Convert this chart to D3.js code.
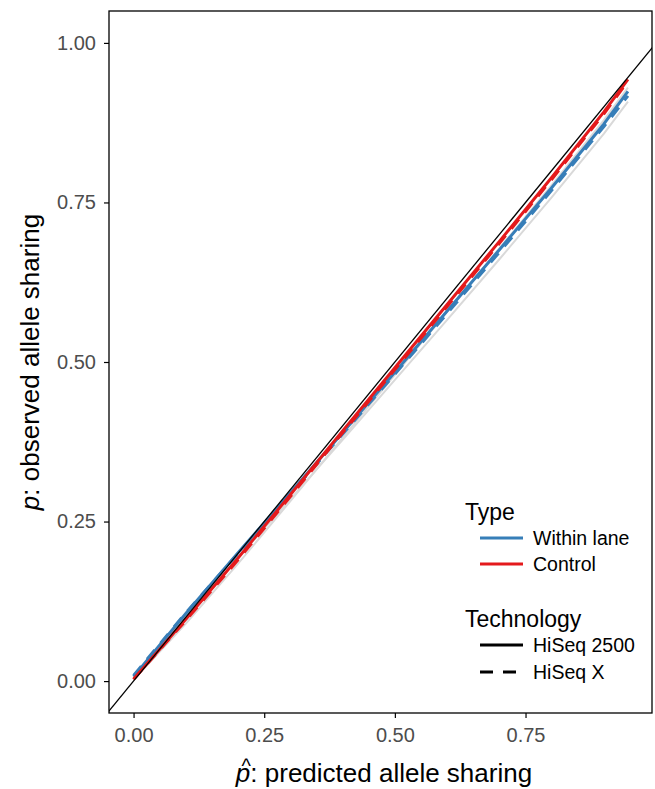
<!DOCTYPE html>
<html>
<head>
<meta charset="utf-8">
<script src="https://cdn.jsdelivr.net/npm/d3@7"></script>
<style>
  body { margin: 0; background: #fff; }
  text { font-family: "Liberation Sans", Arial, Helvetica, sans-serif; }
</style>
</head>
<body>
<script>
// size of the svg
var w = 655;
var h = 789;

// data
var xs = [0, 0.1, 0.2, 0.3, 0.4, 0.5, 0.6, 0.7, 0.8, 0.9, 0.946];
var withinHiSeq2500  = [0.007, 0.106, 0.201, 0.295, 0.389, 0.484, 0.580, 0.676, 0.773, 0.873, 0.924];
var withinHiSeqX     = [0.009, 0.107, 0.200, 0.293, 0.387, 0.481, 0.576, 0.672, 0.769, 0.869, 0.917];
var controlHiSeq2500 = [0.003, 0.097, 0.193, 0.292, 0.392, 0.491, 0.590, 0.689, 0.789, 0.892, 0.943];
var controlHiSeqX    = [0.003, 0.095, 0.190, 0.289, 0.389, 0.488, 0.587, 0.686, 0.786, 0.889, 0.940];
// faint grey lines under the coloured ones
var greyA = [0.002, 0.090, 0.184, 0.282, 0.381, 0.480, 0.579, 0.678, 0.777, 0.879, 0.930];
var greyB = [0.006, 0.101, 0.193, 0.285, 0.378, 0.472, 0.566, 0.661, 0.758, 0.858, 0.908];
// y = x reference line
var refX = [-0.1, 1.1];
var refY = [-0.1, 1.1];

var xTicks = [0, 0.25, 0.5, 0.75];
var yTicks = [0, 0.25, 0.5, 0.75, 1.0];
var typeNames = ["Within lane", "Control"];
var techNames = ["HiSeq 2500", "HiSeq X"];

var blue = "#377EB8", red = "#E41A1C";

var series = [
  {vals: greyA, color: "#d9d9d9", dash: null, width: 2},
  {vals: greyB, color: "#d9d9d9", dash: null, width: 2},
  {vals: withinHiSeq2500, color: blue, dash: null, width: 3},
  {vals: withinHiSeqX, color: blue, dash: "12,9", width: 3},
  {vals: controlHiSeq2500, color: red, dash: null, width: 3},
  {vals: controlHiSeqX, color: red, dash: "12,9", width: 3}
];

var pLeft = 109, pRight = 652, pTop = 11, pBottom = 713;

var x = d3.scaleLinear().domain([-0.047, 0.992]).range([pLeft, pRight]);
var y = d3.scaleLinear().domain([-0.05, 1.05]).range([pBottom, pTop]);

var svg = d3.select("body").append("svg")
    .attr("width", w)
    .attr("height", h);

svg.append("clipPath").attr("id", "clip")
  .append("rect")
    .attr("x", pLeft).attr("y", pTop)
    .attr("width", pRight - pLeft).attr("height", pBottom - pTop);

var plot = svg.append("g").attr("clip-path", "url(#clip)");

var line = d3.line()
    .x(function(d) { return x(d[0]); })
    .y(function(d) { return y(d[1]); });

series.forEach(function(s) {
  plot.append("path")
    .datum(xs.map(function(v, i) { return [v, s.vals[i]]; }))
    .attr("d", line)
    .attr("fill", "none")
    .attr("stroke", s.color)
    .attr("stroke-width", s.width)
    .attr("stroke-dasharray", s.dash)
    .attr("stroke-linejoin", "round");
});

// reference line
plot.append("path")
  .datum(refX.map(function(v, i) { return [v, refY[i]]; }))
  .attr("d", line)
  .attr("fill", "none")
  .attr("stroke", "#000")
  .attr("stroke-width", 1.3);

// panel border
svg.append("rect")
  .attr("x", pLeft).attr("y", pTop)
  .attr("width", pRight - pLeft).attr("height", pBottom - pTop)
  .attr("fill", "none").attr("stroke", "#000").attr("stroke-width", 1.3);

// axes
var xAxis = svg.append("g")
  .attr("transform", "translate(0," + pBottom + ")")
  .call(d3.axisBottom(x).tickValues(xTicks).tickFormat(d3.format(".2f")).tickSize(5).tickPadding(10));
var yAxis = svg.append("g")
  .attr("transform", "translate(" + pLeft + ",0)")
  .call(d3.axisLeft(y).tickValues(yTicks).tickFormat(d3.format(".2f")).tickSize(5).tickPadding(8));

[xAxis, yAxis].forEach(function(g) {
  g.select(".domain").remove();
  g.selectAll(".tick line").attr("stroke", "#000").attr("stroke-width", 1.2);
  g.selectAll(".tick text").attr("fill", "#4D4D4D").style("font-size", "20px")
    .style("font-family", "'Liberation Sans', Arial, sans-serif");
});

// x axis title
var xt = svg.append("text")
  .attr("y", 782)
  .style("font-size", "26px");
var pSpan = xt.append("tspan").style("font-style", "italic").text("p");
xt.append("tspan").text(": predicted allele sharing");
var tl = xt.node().getComputedTextLength();
var x0 = 384 - tl / 2;
xt.attr("x", x0);
var pw = pSpan.node().getComputedTextLength();
svg.append("text")
  .attr("x", x0 + pw / 2 + 3)
  .attr("y", 773)
  .attr("text-anchor", "middle")
  .style("font-size", "20px")
  .text("^");

// y axis title
var yt = svg.append("text")
  .attr("transform", "translate(39," + ((pTop + pBottom) / 2) + ") rotate(-90)")
  .attr("text-anchor", "middle")
  .style("font-size", "26px");
yt.append("tspan").style("font-style", "italic").text("p");
yt.append("tspan").text(": observed allele sharing");

// legend
var lg = svg.append("g");
lg.append("text").attr("x", 465).attr("y", 519.5).style("font-size", "23px").text("Type");
typeNames.forEach(function(t, i) {
  var yy = 538 + i * 26;
  lg.append("line").attr("x1", 480).attr("x2", 523).attr("y1", yy).attr("y2", yy)
    .attr("stroke", [blue, red][i]).attr("stroke-width", 3);
  lg.append("text").attr("x", 533).attr("y", yy + 7).style("font-size", "19.5px").text(t);
});
lg.append("text").attr("x", 465).attr("y", 627).style("font-size", "23px").text("Technology");
techNames.forEach(function(t, i) {
  var yy = 645 + i * 27;
  lg.append("line").attr("x1", 480).attr("x2", 523).attr("y1", yy).attr("y2", yy)
    .attr("stroke", "#000").attr("stroke-width", 3)
    .attr("stroke-dasharray", i == 1 ? "13,10" : null);
  lg.append("text").attr("x", 533).attr("y", yy + 7).style("font-size", "19.5px").text(t);
});
</script>
</body>
</html>
